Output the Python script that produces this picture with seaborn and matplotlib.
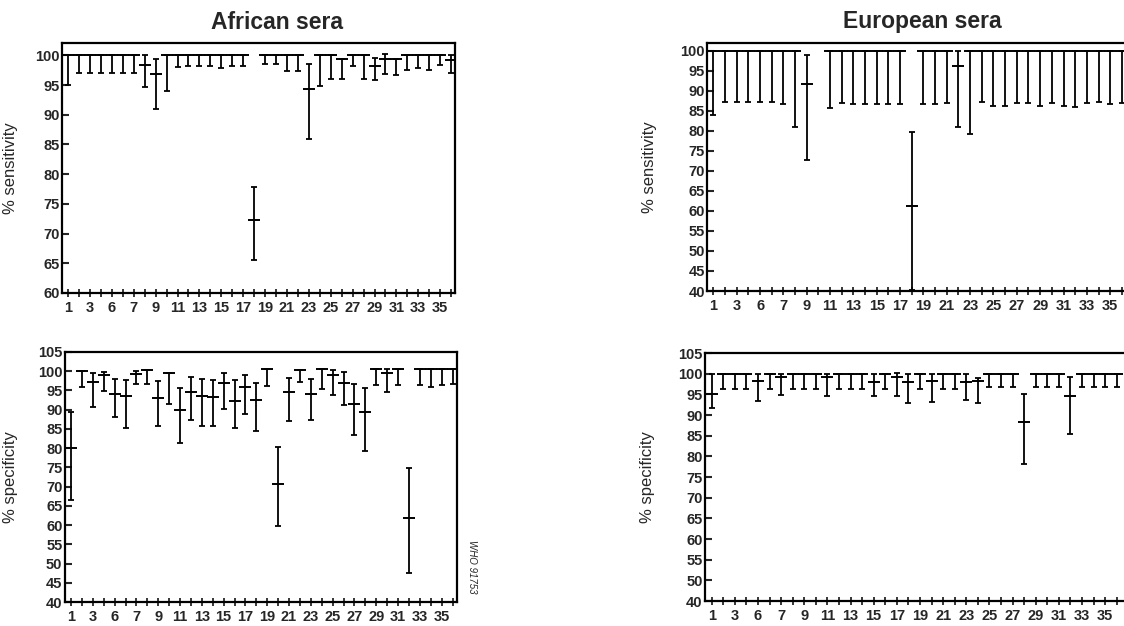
import numpy as np
import seaborn as sns
import matplotlib.pyplot as plt

positions = list(range(1, 37))
# printed labels sit on every other tick (the third one reads "6" in the original)
x_tick_labels = ["1", "3", "6", "7", "9", "11", "13", "15", "17", "19", "21", "23",
                 "25", "27", "29", "31", "33", "35"]

# African sera - sensitivity (estimate, lower, upper)
af_sens_est = [100, 100, 100, 100, 100, 100, 100, 98.4, 96.9, 100, 100, 100, 100, 100, 100, 100, 100, 72.3,
               100, 100, 100, 100, 94.3, 100, 100, 99.4, 100, 100, 98.2, 99.4, 99.4, 100, 100, 100, 100, 99.3]
af_sens_lo = [95.0, 97.1, 97.1, 97.1, 97.1, 97.1, 97.1, 94.6, 90.9, 94.0, 98.0, 98.3, 98.3, 98.3, 97.9, 98.2, 98.2, 65.6,
              98.5, 98.5, 97.3, 97.3, 86.0, 94.9, 96.1, 96.1, 98.3, 96.1, 95.8, 96.9, 96.7, 97.6, 97.8, 97.5, 98.4, 97.0]
af_sens_hi = [100, 100, 100, 100, 100, 100, 100, 100, 99.4, 100, 100, 100, 100, 100, 100, 100, 100, 77.8,
              100, 100, 100, 100, 98.6, 100, 100, 99.4, 100, 100, 99.6, 100.2, 99.4, 100, 100, 100, 100, 100]

# European sera - sensitivity
eu_sens_est = [100, 100, 100, 100, 100, 100, 100, 100, 91.6, np.nan, 100, 100, 100, 100, 100, 100, 100, 61.2,
               100, 100, 100, 96.2, 100, 100, 100, 100, 100, 100, 100, 100, 100, 100, 100, 100, 100, 100]
eu_sens_lo = [83.9, 87.2, 87.2, 87.2, 87.2, 87.2, 86.8, 81.0, 72.7, np.nan, 85.6, 87.0, 86.8, 86.7, 86.8, 86.8, 86.8, 40.3,
              86.8, 86.8, 87.0, 81.0, 79.2, 87.2, 86.2, 86.2, 87.0, 87.0, 86.2, 87.0, 86.3, 86.0, 87.0, 87.2, 86.8, 87.0]
eu_sens_hi = [100, 100, 100, 100, 100, 100, 100, 100, 98.9, np.nan, 100, 100, 100, 100, 100, 100, 100, 79.8,
              100, 100, 100, 100, 100, 100, 100, 100, 100, 100, 100, 100, 100, 100, 100, 100, 100, 100]

# African sera - specificity
af_spec_est = [80.0, 100, 97.3, 98.9, 94.2, 93.5, 99.3, 100.2, 93.1, 99.6, 89.8, 94.7, 93.5, 93.3, 97.0, 92.2, 95.9, 92.4,
               100.5, 70.7, 94.7, 100.3, 94.1, 100.5, 99.0, 97.0, 91.6, 89.3, 100.6, 99.6, 100.6, 61.8, 100.6, 100.6, 100.6, 100.6]
af_spec_lo = [66.6, 95.9, 90.6, 94.8, 88.0, 85.2, 96.8, 96.6, 85.7, 91.5, 81.3, 87.3, 85.8, 85.7, 90.3, 85.2, 89.0, 84.5,
              96.1, 59.8, 87.0, 97.2, 87.3, 95.5, 93.8, 91.3, 83.3, 79.3, 96.4, 94.6, 96.4, 47.5, 96.4, 96.0, 96.3, 96.6]
af_spec_hi = [89.4, 100, 99.6, 99.9, 98.0, 97.7, 100, 100.2, 97.4, 99.6, 95.6, 98.6, 97.9, 97.7, 99.6, 97.6, 99.1, 97.0,
              100.5, 80.3, 98.3, 100.3, 98.1, 100.5, 100.3, 99.8, 96.7, 95.7, 100.6, 100.5, 100.6, 74.9, 100.6, 100.6, 100.6, 100.6]

# European sera - specificity
eu_spec_est = [95.0, 100, 100, 100, 98.3, 100, 99.3, 100, 100, 100, 99.3, 100, 100, 100, 98.1, 100, 99.3, 98.1,
               100, 98.3, 100, 100, 98.1, 98.3, 100, 100, 100, 88.3, 100, 100, 100, 94.6, 100, 100, 100, 100]
eu_spec_lo = [91.6, 96.3, 96.3, 96.3, 93.5, 96.3, 94.9, 96.3, 96.3, 96.3, 94.7, 96.3, 96.3, 96.3, 94.7, 96.3, 94.7, 93.0,
              96.3, 93.2, 96.3, 96.3, 93.7, 93.0, 96.7, 96.7, 96.7, 78.1, 96.7, 96.7, 96.7, 85.3, 96.7, 96.7, 96.7, 96.7]
eu_spec_hi = [100, 100, 100, 100, 100, 100, 100, 100, 100, 100, 100, 100, 100, 100, 100, 100, 100.2, 99.8,
              100, 100, 100, 100, 99.8, 99.0, 100, 100, 100, 95.1, 100, 100, 100, 99.3, 100, 100, 100, 100]

sens_af_yticks = [60, 65, 70, 75, 80, 85, 90, 95, 100]
sens_eu_yticks = [40, 45, 50, 55, 60, 65, 70, 75, 80, 85, 90, 95, 100]
spec_af_yticks = [40, 45, 50, 55, 60, 65, 70, 75, 80, 85, 90, 95, 100, 105]
# the printed European specificity axis skips 45 and puts "40" on the bottom tick
spec_eu_yticks = [45, 50, 55, 60, 65, 70, 75, 80, 85, 90, 95, 100, 105]
spec_eu_ylabels = ["40", "50", "55", "60", "65", "70", "75", "80", "85", "90", "95", "100", "105"]

sns.set_style("ticks")
plt.rcParams['font.family'] = ['Liberation Sans', 'DejaVu Sans']

fig = plt.figure(figsize=(11.24, 6.26), dpi=100)


def draw_panel(rect, est, lo, hi, xlim, ylim, yticks, ylabels, ylabel, lab_x):
    ax = fig.add_axes(rect)
    est = np.array(est, dtype=float)
    lo = np.array(lo, dtype=float)
    hi = np.array(hi, dtype=float)
    ax.errorbar(positions, est, yerr=[est - lo, hi - est], fmt='none', ecolor='black',
                elinewidth=1.3, capsize=2.4, capthick=1.3)
    sns.scatterplot(x=positions, y=est, marker='_', s=72, color='black', linewidth=1.4, ax=ax, legend=False)
    ax.set_xlim(*xlim)
    ax.set_ylim(*ylim)
    xlabels = []
    for lab in x_tick_labels:
        xlabels += [lab, ""]
    ax.set_xticks(positions)
    ax.set_xticklabels(xlabels)
    ax.set_yticks(yticks)
    ax.set_yticklabels(ylabels if ylabels is not None else [str(t) for t in yticks])
    ax.tick_params(axis='x', direction='inout', length=6, width=1.3, pad=3, labelsize=10.5)
    ax.tick_params(axis='y', direction='in', length=5, width=1.5, pad=1.5, labelsize=10.5)
    for lab in ax.get_xticklabels() + ax.get_yticklabels():
        lab.set_fontweight('bold')
    for sp in ax.spines.values():
        sp.set_linewidth(1.6)
        sp.set_color('black')
    ax.set_ylabel(ylabel, fontsize=12)
    ax.yaxis.set_label_coords(lab_x, 0.5)
    return ax


ax1 = draw_panel([0.0552, 0.532, 0.3496, 0.3994], af_sens_est, af_sens_lo, af_sens_hi,
                 (0.45, 36.35), (60, 102.1), sens_af_yticks, None, "% sensitivity", -0.112)
ax1.set_title("African sera", fontsize=16.5, fontweight='bold', x=0.547, pad=10)

ax2 = draw_panel([0.629, 0.5351, 0.3774, 0.3962], eu_sens_est, eu_sens_lo, eu_sens_hi,
                 (0.45, 36.8), (40, 101.9), sens_eu_yticks, None, "% sensitivity", -0.117)
ax2.set_title("European sera", fontsize=16.5, fontweight='bold', x=0.507, pad=11)

ax3 = draw_panel([0.0574, 0.0383, 0.3491, 0.3994], af_spec_est, af_spec_lo, af_spec_hi,
                 (0.4, 36.4), (40, 105), spec_af_yticks, None, "% specificity", -0.119)

ax4 = draw_panel([0.627, 0.0399, 0.3747, 0.3962], eu_spec_est, eu_spec_lo, eu_spec_hi,
                 (0.4, 36.8), (45, 105), spec_eu_yticks, spec_eu_ylabels, "% specificity", -0.119)

fig.text(0.42, 0.094, "WHO 91753", rotation=-90, fontsize=7, style='italic', ha='center', va='center')

plt.savefig("out.png", dpi=100)
